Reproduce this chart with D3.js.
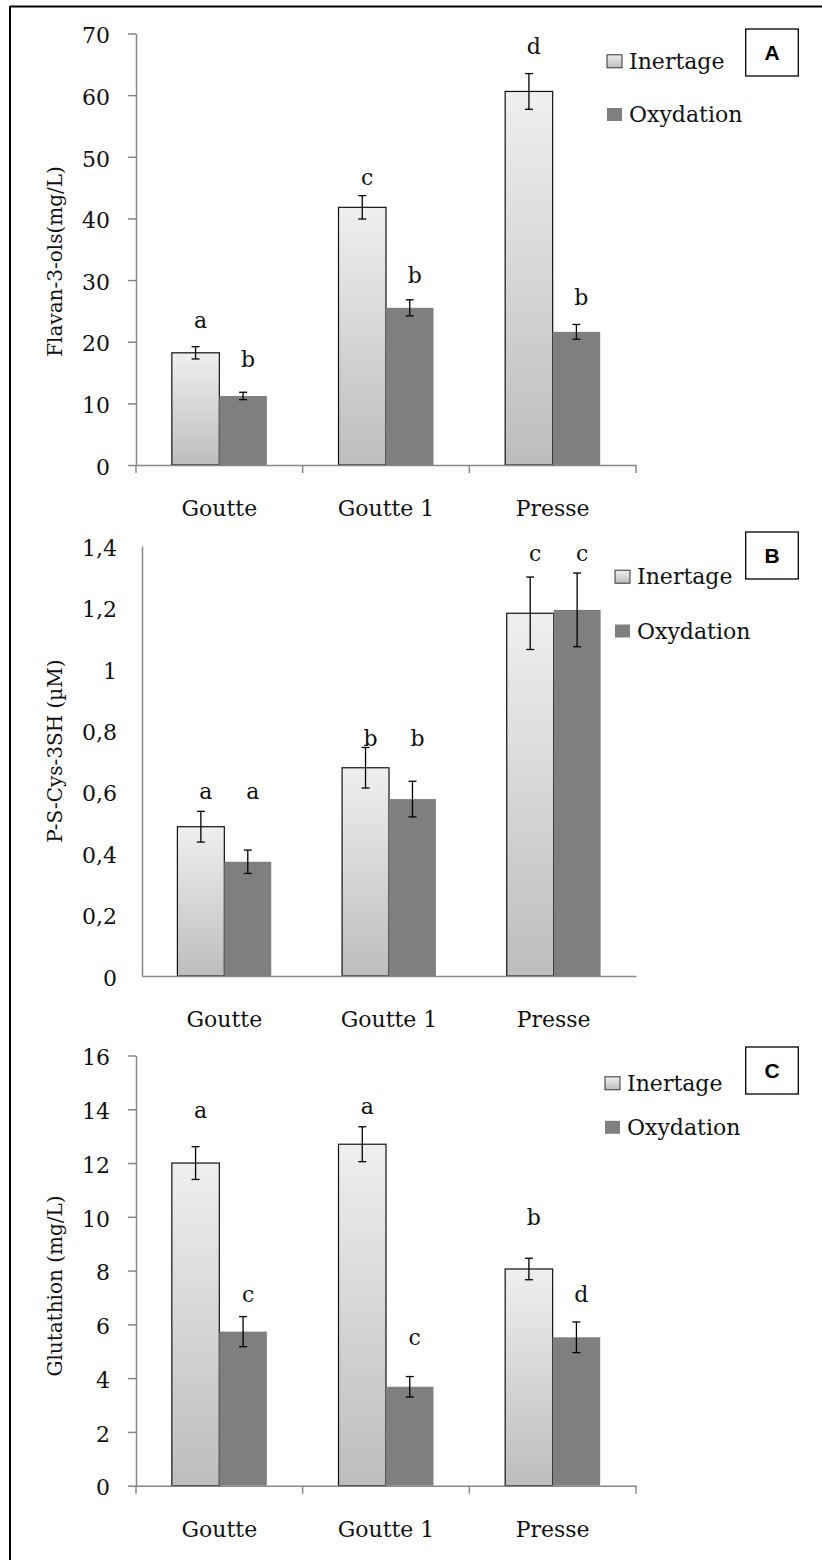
<!DOCTYPE html>
<html><head><meta charset="utf-8">
<script src="https://cdn.jsdelivr.net/npm/d3@7/dist/d3.min.js"></script>
<style>html,body{margin:0;padding:0;background:#fff;} svg{display:block;}</style>
</head><body>
<script>
// ---------- DATA ----------
const categories = ["Goutte", "Goutte 1", "Presse"];
const series = ["Inertage", "Oxydation"];

// Panel A : Flavan-3-ols (mg/L)
const flavanInertage = [18.2, 41.8, 60.6];
const flavanOxydation = [11.2, 25.5, 21.6];
const flavanInertageErr = [1.0, 1.9, 2.9];
const flavanOxydationErr = [0.6, 1.3, 1.2];
const flavanLettersInertage = ["a", "c", "d"];
const flavanLettersOxydation = ["b", "b", "b"];
const flavanLetterLevelInertage = [22.2, 45.5, 66.7];
const flavanLetterLevelOxydation = [15.9, 29.6, 25.9];
const flavanTicks = [0, 10, 20, 30, 40, 50, 60, 70];
const flavanTickLabels = ["0", "10", "20", "30", "40", "50", "60", "70"];

// Panel B : P-S-Cys-3SH (µM)
const thiolInertage = [0.486, 0.678, 1.181];
const thiolOxydation = [0.372, 0.576, 1.192];
const thiolInertageErr = [0.05, 0.066, 0.118];
const thiolOxydationErr = [0.038, 0.058, 0.12];
const thiolLettersInertage = ["a", "b", "c"];
const thiolLettersOxydation = ["a", "b", "c"];
const thiolLetterLevelInertage = [0.577, 0.749, 1.35];
const thiolLetterLevelOxydation = [0.577, 0.749, 1.35];
const thiolTicks = [0, 0.2, 0.4, 0.6, 0.8, 1, 1.2, 1.4];
const thiolTickLabels = ["0", "0,2", "0,4", "0,6", "0,8", "1", "1,2", "1,4"];

// Panel C : Glutathion (mg/L)
const gshInertage = [12.0, 12.7, 8.06];
const gshOxydation = [5.73, 3.68, 5.52];
const gshInertageErr = [0.61, 0.65, 0.4];
const gshOxydationErr = [0.56, 0.38, 0.57];
const gshLettersInertage = ["a", "a", "b"];
const gshLettersOxydation = ["c", "c", "d"];
const gshLetterLevelInertage = [13.67, 13.82, 9.7];
const gshLetterLevelOxydation = [6.84, 5.23, 6.84];
const gshTicks = [0, 2, 4, 6, 8, 10, 12, 14, 16];
const gshTickLabels = ["0", "2", "4", "6", "8", "10", "12", "14", "16"];

// ---------- PANELS ----------
const panels = [
  { id: "A", title: "Flavan-3-ols(mg/L)", inert: flavanInertage, oxy: flavanOxydation,
    inertErr: flavanInertageErr, oxyErr: flavanOxydationErr,
    lInert: flavanLettersInertage, lOxy: flavanLettersOxydation,
    lvInert: flavanLetterLevelInertage, lvOxy: flavanLetterLevelOxydation,
    ticks: flavanTicks, tickLabels: flavanTickLabels,
    L: { left: 136, right: 636, top: 33.5, zero: 465, tickMarks: true, titleY: 261.5,
         legendX: 607, legendY: [61.3, 114.5], boxY: 29 } },
  { id: "B", title: "P-S-Cys-3SH (µM)", inert: thiolInertage, oxy: thiolOxydation,
    inertErr: thiolInertageErr, oxyErr: thiolOxydationErr,
    lInert: thiolLettersInertage, lOxy: thiolLettersOxydation,
    lvInert: thiolLetterLevelInertage, lvOxy: thiolLetterLevelOxydation,
    ticks: thiolTicks, tickLabels: thiolTickLabels,
    L: { left: 142, right: 636, top: 546, zero: 976, tickMarks: false, titleY: 751,
         legendX: 615, legendY: [576.7, 631], boxY: 532 } },
  { id: "C", title: "Glutathion (mg/L)", inert: gshInertage, oxy: gshOxydation,
    inertErr: gshInertageErr, oxyErr: gshOxydationErr,
    lInert: gshLettersInertage, lOxy: gshLettersOxydation,
    lvInert: gshLetterLevelInertage, lvOxy: gshLetterLevelOxydation,
    ticks: gshTicks, tickLabels: gshTickLabels,
    L: { left: 136, right: 636, top: 1055.5, zero: 1485.7, tickMarks: true, titleY: 1286,
         legendX: 605, legendY: [1083.3, 1127.3], boxY: 1047 } }
];

const W = 822, H = 1560;
const FONT = "'DejaVu Serif', serif";
const AXIS = "#878787";
const OXY = "#7f7f7f";

const svg = d3.select("body").append("svg").attr("width", W).attr("height", H)
  .style("font-family", FONT);

const defs = svg.append("defs");
const grad = defs.append("linearGradient").attr("id", "inertGrad")
  .attr("x1", 0).attr("y1", 0).attr("x2", 0).attr("y2", 1);
grad.append("stop").attr("offset", "0%").attr("stop-color", "#efefef");
grad.append("stop").attr("offset", "100%").attr("stop-color", "#bdbdbd");

// outer frame (left & top)
svg.append("line").attr("x1", 10).attr("x2", 10).attr("y1", 6).attr("y2", H).attr("stroke", "#000").attr("stroke-width", 2);
svg.append("line").attr("x1", 10).attr("x2", W).attr("y1", 6.5).attr("y2", 6.5).attr("stroke", "#000").attr("stroke-width", 2);

panels.forEach(p => {
  const L = p.L;
  const g = svg.append("g");
  const maxV = p.ticks[p.ticks.length - 1];
  const y = d3.scaleLinear().domain([0, maxV]).range([L.zero, L.top]);
  const x = d3.scaleBand().domain(categories).range([L.left, L.right]).paddingInner(0).paddingOuter(0);
  const groupW = x.bandwidth() * 0.57;
  const xs = d3.scaleBand().domain(series).range([0, groupW]);

  // bars
  const rows = categories.map((c, i) => ({
    cat: c,
    vals: [
      { s: "Inertage", v: p.inert[i], e: p.inertErr[i], l: p.lInert[i], lv: p.lvInert[i] },
      { s: "Oxydation", v: p.oxy[i], e: p.oxyErr[i], l: p.lOxy[i], lv: p.lvOxy[i] }
    ]
  }));
  const grp = g.selectAll("g.cat").data(rows).join("g")
    .attr("transform", d => `translate(${x(d.cat) + (x.bandwidth() - groupW) / 2},0)`);

  grp.selectAll("rect").data(d => d.vals).join("rect")
    .attr("x", d => xs(d.s))
    .attr("y", d => y(d.v))
    .attr("width", xs.bandwidth())
    .attr("height", d => y(0) - y(d.v))
    .attr("fill", d => d.s === "Inertage" ? "url(#inertGrad)" : OXY)
    .attr("stroke", d => d.s === "Inertage" ? "#111" : "none")
    .attr("stroke-width", 1.2);

  // axes
  const yAxis = d3.axisLeft(y).tickValues(p.ticks)
    .tickFormat((d, i) => p.tickLabels[i])
    .tickSize(L.tickMarks ? 8 : 0).tickSizeOuter(0)
    .tickPadding(L.tickMarks ? 18 : 25);
  const ya = g.append("g").attr("transform", `translate(${L.left},0)`).call(yAxis);
  ya.selectAll("path.domain").attr("stroke", AXIS).attr("stroke-width", 1.5);
  ya.selectAll(".tick line").attr("stroke", AXIS).attr("stroke-width", 1.5);
  ya.selectAll(".tick text").attr("font-size", 22).attr("font-family", FONT).attr("fill", "#111").attr("dy", "0.42em");

  const xAxis = d3.axisBottom(x).tickSize(0).tickSizeOuter(0).tickPadding(35.5);
  const xa = g.append("g").attr("transform", `translate(0,${L.zero})`).call(xAxis);
  xa.selectAll("path.domain").attr("stroke", AXIS).attr("stroke-width", 1.5);
  xa.selectAll(".tick text").attr("font-size", 22).attr("font-family", FONT).attr("fill", "#111");
  if (L.tickMarks) {
    const bounds = categories.map(c => x(c)).concat([x.range()[1]]);
    g.selectAll("line.bt").data(bounds).join("line")
      .attr("x1", d => d).attr("x2", d => d)
      .attr("y1", L.zero).attr("y2", L.zero + 8)
      .attr("stroke", AXIS).attr("stroke-width", 1.5);
  }

  // error bars
  const eb = grp.selectAll("g.err").data(d => d.vals).join("g")
    .attr("transform", d => `translate(${xs(d.s) + xs.bandwidth() / 2},0)`);
  eb.append("line").attr("x1", 0).attr("x2", 0)
    .attr("y1", d => y(d.v + d.e)).attr("y2", d => y(d.v - d.e))
    .attr("stroke", "#000").attr("stroke-width", 1.3);
  eb.append("line").attr("x1", -4).attr("x2", 4)
    .attr("y1", d => y(d.v + d.e)).attr("y2", d => y(d.v + d.e))
    .attr("stroke", "#000").attr("stroke-width", 1.3);
  eb.append("line").attr("x1", -4).attr("x2", 4)
    .attr("y1", d => y(d.v - d.e)).attr("y2", d => y(d.v - d.e))
    .attr("stroke", "#000").attr("stroke-width", 1.3);

  // significance letters
  eb.append("text").attr("x", 5).attr("y", d => y(d.lv))
    .attr("text-anchor", "middle").attr("font-size", 22).attr("fill", "#111")
    .text(d => d.l);

  // y title
  g.append("text")
    .attr("transform", `translate(62,${L.titleY}) rotate(-90)`)
    .attr("text-anchor", "middle").attr("font-size", 20).attr("fill", "#111")
    .text(p.title);

  // legend
  series.forEach((s, i) => {
    const cy = L.legendY[i];
    g.append("rect").attr("x", L.legendX).attr("y", cy - 6.5).attr("width", 15).attr("height", 13)
      .attr("fill", s === "Inertage" ? "url(#inertGrad)" : OXY)
      .attr("stroke", s === "Inertage" ? "#333" : "none").attr("stroke-width", 1);
    g.append("text").attr("x", L.legendX + 22).attr("y", cy + 7.5)
      .attr("font-size", 22).attr("fill", "#111").text(s);
  });

  // panel letter box
  g.append("rect").attr("x", 745.7).attr("y", L.boxY).attr("width", 52.6).attr("height", 47)
    .attr("fill", "#fff").attr("stroke", "#000").attr("stroke-width", 1.3);
  g.append("text").attr("x", 745.7 + 26.3).attr("y", L.boxY + 23.5).attr("dy", "0.36em")
    .attr("text-anchor", "middle").attr("font-size", 21).attr("font-weight", "bold")
    .attr("font-family", "'Liberation Sans', Arial, sans-serif").attr("fill", "#000")
    .text(p.id);
});
</script>
</body></html>
